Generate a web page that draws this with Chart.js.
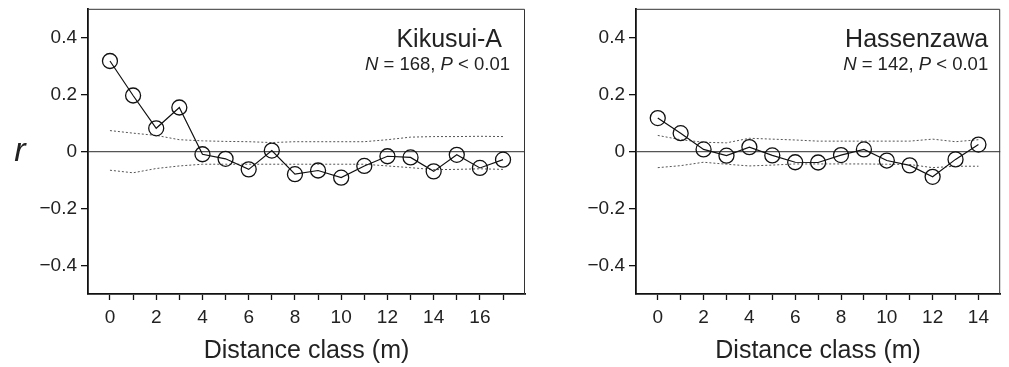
<!DOCTYPE html>
<html>
<head>
<meta charset="utf-8">
<script src="https://cdn.jsdelivr.net/npm/chart.js@4.4.1/dist/chart.umd.min.js"></script>
<style>
  html, body { margin: 0; padding: 0; background: #fff; }
  #wrap { position: relative; width: 1009px; height: 367px; overflow: hidden; }
  canvas { position: absolute; top: 0; }
</style>
</head>
<body>
<div id="wrap">
  <canvas id="c1" width="540" height="367" style="left:0px"></canvas>
  <canvas id="c2" width="469" height="367" style="left:540px"></canvas>
</div>
<script>
// ---- Data ----
const yTickValues = [-0.4, -0.2, 0, 0.2, 0.4];

const kikusuiClasses = [0,1,2,3,4,5,6,7,8,9,10,11,12,13,14,15,16,17];
const kikusuiR     = [0.317, 0.196, 0.081, 0.154, -0.010, -0.026, -0.063, 0.003, -0.080, -0.067, -0.092, -0.051, -0.017, -0.021, -0.070, -0.012, -0.058, -0.029];
const kikusuiUpper = [0.073, 0.064, 0.056, 0.041, 0.037, 0.035, 0.034, 0.031, 0.034, 0.034, 0.034, 0.034, 0.041, 0.050, 0.052, 0.052, 0.053, 0.052];
const kikusuiLower = [-0.066, -0.075, -0.060, -0.051, -0.045, -0.045, -0.045, -0.045, -0.045, -0.045, -0.045, -0.045, -0.051, -0.057, -0.064, -0.063, -0.061, -0.063];

const hassenClasses = [0,1,2,3,4,5,6,7,8,9,10,11,12,13,14];
const hassenR     = [0.117, 0.064, 0.007, -0.015, 0.015, -0.014, -0.038, -0.039, -0.013, 0.007, -0.032, -0.049, -0.089, -0.028, 0.024];
const hassenUpper = [0.056, 0.041, 0.032, 0.030, 0.046, 0.043, 0.040, 0.036, 0.036, 0.036, 0.036, 0.036, 0.043, 0.034, 0.041];
const hassenLower = [-0.057, -0.050, -0.038, -0.045, -0.051, -0.048, -0.044, -0.044, -0.044, -0.044, -0.045, -0.046, -0.057, -0.052, -0.052];

const FONT = "'Liberation Sans', Arial, Helvetica, sans-serif";
const TEXT = '#222';

// Plugin: frame (top/right thin), panel label, N/P text, and 'r' label
const panelPlugin = {
  id: 'panelText',
  afterDraw(chart, args, opts) {
    const ctx = chart.ctx;
    const a = chart.chartArea;
    ctx.save();
    ctx.strokeStyle = '#333';
    ctx.lineWidth = 1;
    ctx.beginPath();
    ctx.moveTo(a.left, a.top + 0.5);
    ctx.lineTo(a.right - 0.5, a.top + 0.5);
    ctx.lineTo(a.right - 0.5, a.bottom);
    ctx.stroke();
    ctx.fillStyle = TEXT;
    ctx.textBaseline = 'alphabetic';
    ctx.textAlign = 'right';
    ctx.font = '25px ' + FONT;
    ctx.fillText(opts.title, a.right - opts.titleInset, a.top + 38);
    const segs = [['N', true], [' = ' + opts.n + ', ', false], ['P', true], [' < 0.01', false]];
    let x = a.right - opts.statInset;
    ctx.textAlign = 'left';
    const widths = segs.map(s => { ctx.font = (s[1] ? 'italic ' : '') + '18.5px ' + FONT; return ctx.measureText(s[0]).width; });
    const total = widths.reduce((p, c) => p + c, 0);
    x -= total;
    segs.forEach((s, i) => {
      ctx.font = (s[1] ? 'italic ' : '') + '18.5px ' + FONT;
      ctx.fillText(s[0], x, a.top + 61);
      x += widths[i];
    });
    if (opts.yLabel) {
      ctx.font = 'italic 34px ' + FONT;
      ctx.textAlign = 'center';
      ctx.fillText(opts.yLabel, 20, chart.scales.y.getPixelForValue(0) + 10);
    }
    ctx.restore();
  }
};

function makeChart(id, classes, r, upper, lower, cfg) {
  const xMax = classes[classes.length - 1] + 0.95;
  return new Chart(document.getElementById(id), {
    type: 'line',
    data: {
      labels: classes,
      datasets: [
        {
          data: classes.map((c, i) => ({ x: c, y: r[i] })),
          borderColor: '#111',
          borderWidth: 1.2,
          pointRadius: 7.5,
          pointHoverRadius: 7.5,
          pointBorderWidth: 1.3,
          pointBorderColor: '#111',
          pointBackgroundColor: 'rgba(0,0,0,0)',
          tension: 0
        },
        {
          data: classes.map((c, i) => ({ x: c, y: upper[i] })),
          borderColor: '#555',
          borderWidth: 1,
          borderDash: [2, 2],
          pointRadius: 0,
          tension: 0
        },
        {
          data: classes.map((c, i) => ({ x: c, y: lower[i] })),
          borderColor: '#555',
          borderWidth: 1,
          borderDash: [2, 2],
          pointRadius: 0,
          tension: 0
        }
      ]
    },
    options: {
      responsive: false,
      animation: false,
      devicePixelRatio: 1,
      layout: { padding: { top: 7, right: cfg.padRight, left: 0, bottom: 0 } },
      plugins: {
        legend: { display: false },
        tooltip: { enabled: false },
        panelText: { title: cfg.title, n: cfg.n, titleInset: cfg.titleInset, statInset: cfg.statInset, yLabel: cfg.yLabel }
      },
      scales: {
        x: {
          type: 'linear',
          min: -0.95,
          max: xMax,
          afterBuildTicks(scale) { scale.ticks = classes.map(v => ({ value: v })); },
          afterFit(scale) { scale.height = 73; scale.paddingLeft = 0; scale.paddingRight = 0; },
          border: { display: true, color: '#111', width: 1.8 },
          grid: { drawOnChartArea: false, drawTicks: true, tickLength: 6, tickColor: '#111', tickWidth: 1.3 },
          ticks: {
            autoSkip: false,
            maxRotation: 0,
            padding: 6,
            color: TEXT,
            font: { family: FONT, size: 19 },
            callback: v => (v % 2 === 0 ? String(v) : '')
          },
          title: {
            display: true,
            text: 'Distance class (m)',
            color: TEXT,
            font: { family: FONT, size: 25 },
            padding: { top: 0, bottom: 1 }
          }
        },
        y: {
          type: 'linear',
          min: -0.5,
          max: 0.5,
          afterBuildTicks(scale) { scale.ticks = yTickValues.map(v => ({ value: v })); },
          afterFit(scale) { scale.width = cfg.yWidth; scale.paddingTop = 0; scale.paddingBottom = 0; },
          border: { display: true, color: '#111', width: 1.8 },
          grid: {
            drawOnChartArea: true,
            drawTicks: true,
            tickLength: 7,
            tickColor: '#111',
            tickWidth: 1.3,
            lineWidth: 1.3,
            color: ctx => (ctx.tick && ctx.tick.value === 0 ? '#555' : 'rgba(0,0,0,0)')
          },
          ticks: {
            padding: 4,
            color: TEXT,
            font: { family: FONT, size: 19 },
            callback: v => (v === 0 ? '0' : (v < 0 ? '\u2212' + Math.abs(v).toFixed(1) : v.toFixed(1)))
          }
        }
      }
    },
    plugins: [panelPlugin]
  });
}

makeChart('c1', kikusuiClasses, kikusuiR, kikusuiUpper, kikusuiLower,
  { title: 'Kikusui-A', n: 168, titleInset: 23, statInset: 15, yLabel: 'r', yWidth: 88, padRight: 15 });
makeChart('c2', hassenClasses, hassenR, hassenUpper, hassenLower,
  { title: 'Hassenzawa', n: 142, titleInset: 12, statInset: 12, yLabel: null, yWidth: 96, padRight: 5 });
</script>
</body>
</html>
